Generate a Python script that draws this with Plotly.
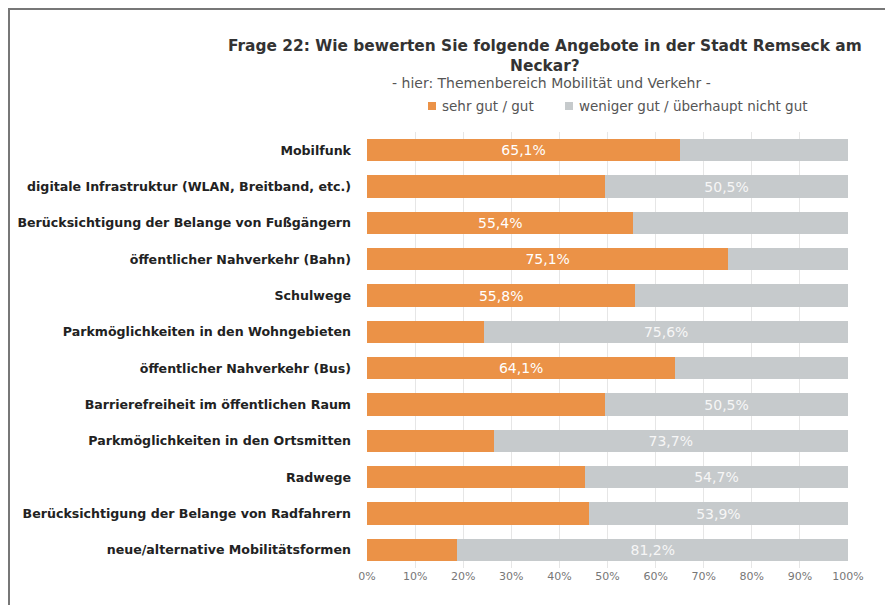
import plotly.graph_objects as go

categories = [
    "Mobilfunk",
    "digitale Infrastruktur (WLAN, Breitband, etc.)",
    "Berücksichtigung der Belange von Fußgängern",
    "öffentlicher Nahverkehr (Bahn)",
    "Schulwege",
    "Parkmöglichkeiten in den Wohngebieten",
    "öffentlicher Nahverkehr (Bus)",
    "Barrierefreiheit im öffentlichen Raum",
    "Parkmöglichkeiten in den Ortsmitten",
    "Radwege",
    "Berücksichtigung der Belange von Radfahrern",
    "neue/alternative Mobilitätsformen",
]
gut = [65.1, 49.5, 55.4, 75.1, 55.8, 24.4, 64.1, 49.5, 26.3, 45.3, 46.1, 18.8]
nicht_gut = [34.9, 50.5, 44.6, 24.9, 44.2, 75.6, 35.9, 50.5, 73.7, 54.7, 53.9, 81.2]
series_names = ["sehr gut / gut", "weniger gut / überhaupt nicht gut"]
tick_vals = [0, 10, 20, 30, 40, 50, 60, 70, 80, 90, 100]
tick_text = [f"{v}%" for v in tick_vals]

ORANGE = "#EB9247"
GRAY = "#C6CACC"
FONT = "DejaVu Sans"

OFF = 8  # page offset of the figure
W, H = 893, 605
ML = 367 - OFF
PR = 848 - OFF
MT = 132 - OFF
PB = 568 - OFF
MR = W - PR
MB = H - PB
PW, PH = PR - ML, PB - MT


def px_x(px):
    return (px - OFF - ML) / PW


def px_y(py):
    return (PB - (py - OFF)) / PH


def fmt(v):
    return f"{v:.1f}".replace(".", ",") + "%"


gut_text = [fmt(a) if a > b else "" for a, b in zip(gut, nicht_gut)]
ng_text = [fmt(b) if b > a else "" for a, b in zip(gut, nicht_gut)]

fig = go.Figure()
fig.add_trace(go.Bar(
    y=categories, x=gut, orientation="h", name=series_names[0],
    marker=dict(color=ORANGE, line=dict(width=0)),
    text=gut_text, textposition="inside", insidetextanchor="middle",
    textfont=dict(color="white", size=14, family=FONT),
))
fig.add_trace(go.Bar(
    y=categories, x=nicht_gut, orientation="h", name=series_names[1],
    marker=dict(color=GRAY, line=dict(width=0)),
    text=ng_text, textposition="inside", insidetextanchor="middle",
    textfont=dict(color="#F6F6F6", size=14, family=FONT),
))

fig.update_layout(
    width=W, height=H,
    barmode="stack", bargap=0.38,
    paper_bgcolor="white", plot_bgcolor="white",
    margin=dict(l=ML, r=MR, t=MT, b=MB, autoexpand=False),
    font=dict(family=FONT, color="#333333"),
    showlegend=False,
    uniformtext=dict(minsize=8, mode="show"),
)

# title
fig.add_annotation(
    text="<b>Frage 22: Wie bewerten Sie folgende Angebote in der Stadt Remseck am<br>Neckar?</b>",
    xref="paper", yref="paper", x=px_x(545), y=px_y(56), xanchor="center", yanchor="middle",
    showarrow=False, align="center",
    font=dict(size=15.4, color="#333333", family=FONT),
)
# subtitle
fig.add_annotation(
    text="- hier: Themenbereich Mobilität und Verkehr -",
    xref="paper", yref="paper", x=px_x(551), y=px_y(83), xanchor="center", yanchor="middle",
    showarrow=False, font=dict(size=14, color="#555555", family=FONT),
)
# legend
legend_pos = [(428, 440), (565, 577)]
for (sx, tx), name, col in zip(legend_pos, series_names, [ORANGE, GRAY]):
    fig.add_shape(
        type="rect", xref="paper", yref="paper",
        x0=px_x(sx), x1=px_x(sx + 8), y0=px_y(110), y1=px_y(102),
        fillcolor=col, line=dict(width=0),
    )
    fig.add_annotation(
        text=name, xref="paper", yref="paper", x=px_x(tx), y=px_y(106),
        xanchor="left", yanchor="middle", showarrow=False,
        font=dict(size=13.5, color="#555555", family=FONT),
    )

fig.update_xaxes(
    range=[0, 100], tickvals=tick_vals, ticktext=tick_text,
    showgrid=True, gridcolor="#E6E6E6", gridwidth=1,
    zeroline=False, showline=False,
    tickfont=dict(size=11, color="#777777", family=FONT),
)
fig.update_yaxes(
    autorange="reversed", showgrid=False, showline=False,
    tickfont=dict(size=12.6, color="#222222", family=FONT),
    ticklabelstandoff=15,
    tickprefix="<b>", ticksuffix="</b>",
)

# outer frame
fig.add_shape(
    type="rect", xref="paper", yref="paper",
    x0=px_x(9), x1=px_x(886), y0=px_y(640), y1=px_y(9),
    line=dict(color="#777777", width=2), fillcolor="rgba(0,0,0,0)", layer="below",
)

fig.write_html("out.html")
